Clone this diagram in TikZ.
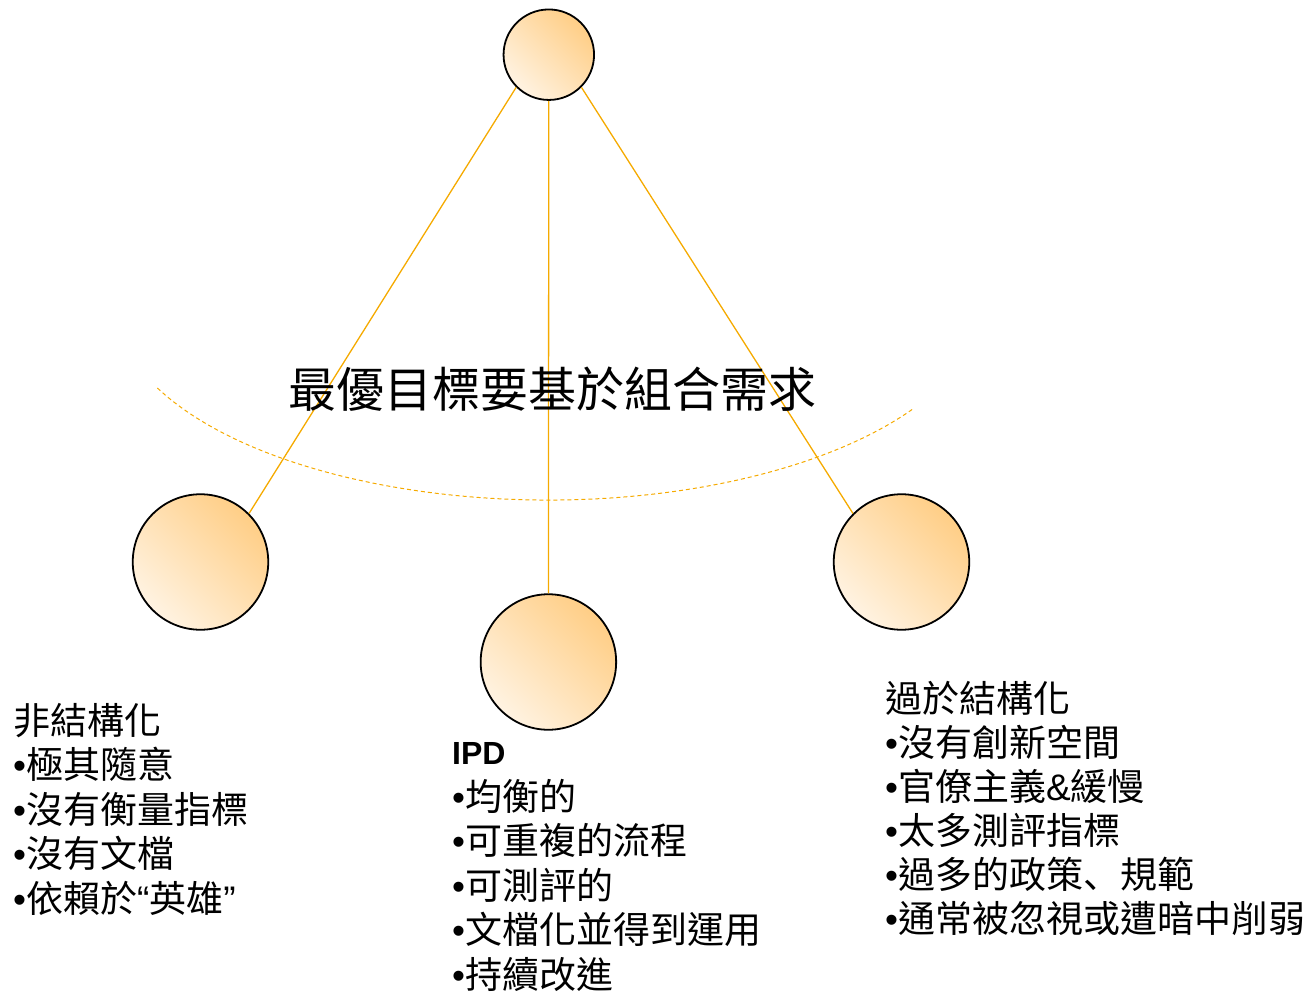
\documentclass[tikz,border=0pt]{standalone}
\usepackage{fontspec}
\newfontfamily\cjk{Noto Sans CJK TC}
\newfontfamily\cjksc{Noto Sans CJK SC}
\newfontfamily\latf{Liberation Sans}
\definecolor{lineor}{RGB}{245,170,0}
\definecolor{cdark}{RGB}{255,206,134}
\definecolor{clight}{RGB}{255,243,226}
\newcommand{\bul}{{\latf •}}
\newcommand{\amp}{{\latf\&}}
\newcommand{\myoq}{{\latf “}}
\newcommand{\mycq}{{\latf ”}}
\newcommand{\dun}{{\cjksc 、}}
\begin{document}
\begin{tikzpicture}[x=1pt,y=1pt,
  ball/.style={circle, draw=black, line width=1.8pt, inner sep=0pt,
    top color=cdark, bottom color=clight, shading angle=-45},
  conn/.style={draw=lineor, line width=1.3pt},
  arcline/.style={draw=lineor, line width=1pt, dash pattern=on 4pt off 3pt},
  txt/.style={anchor=base west, inner sep=0pt, font=\cjk\fontsize{37}{44}\selectfont},
  title/.style={anchor=base, inner sep=0pt, font=\cjk\fontsize{48}{56}\selectfont},
]
\useasboundingbox (0,0) rectangle (1314,-993);

% circles
\node[ball, minimum size=90.5] (top) at (548.8,-54.7) {};
\node[ball, minimum size=135.5] (left) at (200.5,-562) {};
\node[ball, minimum size=135.5] (mid) at (548.4,-662) {};
\node[ball, minimum size=135.5] (right) at (901.5,-562) {};

% connectors
\draw[conn] (top.225) -- (left.45);
\draw[conn] (top.south) -- (mid.north);
\draw[conn] (top.-45) -- (right.135);

% dashed arc
\coordinate (arcstart) at (157.4,-388);
\draw[arcline] (arcstart) arc[start angle=206.1, end angle=327, x radius=435pt, y radius=200pt];

% title
\node[title] (ttl) at (552.5,-407) {最優目標要基於組合需求};

% left block
\foreach \t [count=\i from 0] in {非結構化, \bul 極其隨意, \bul 沒有衡量指標, \bul 沒有文檔, \bul 依賴於\myoq 英雄\mycq}
  \node[txt] (lt\i) at (13,{-734-44.5*\i}) {\t};

% middle block
\node[anchor=base west, inner sep=0pt, font=\latf\bfseries\fontsize{32}{38}\selectfont] (ipd) at (452,-764) {IPD};
\foreach \t [count=\i from 0] in {\bul 均衡的, \bul 可重複的流程, \bul 可測評的, \bul 文檔化並得到運用, \bul 持續改進}
  \node[txt] (mt\i) at (452,{-810.5-44.4*\i}) {\t};

% right block
\foreach \t [count=\i from 0] in {過於結構化, \bul 沒有創新空間, \bul 官僚主義\amp 緩慢, \bul 太多測評指標, \bul 過多的政策\dun 規範, \bul 通常被忽視或遭暗中削弱}
  \node[txt] (rt\i) at (885,{-712-44*\i}) {\t};
\end{tikzpicture}
\end{document}
